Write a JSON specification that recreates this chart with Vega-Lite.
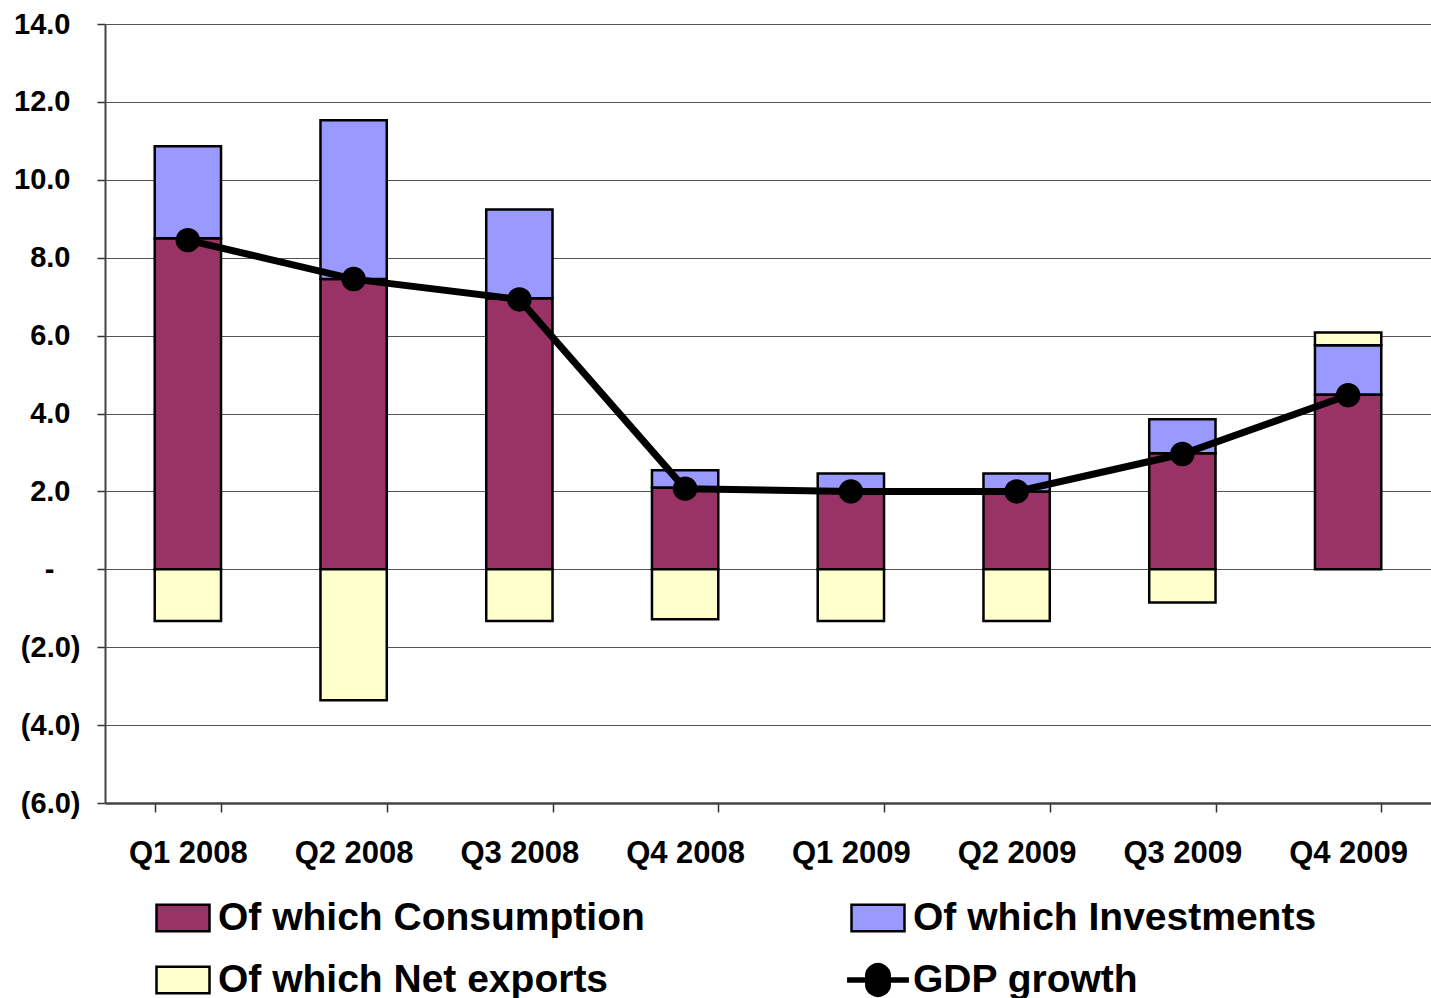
{
  "$schema": "https://vega.github.io/schema/vega-lite/v6.json",
  "width": 1326,
  "height": 779,
  "autosize": "none",
  "padding": {"left": 105, "top": 24, "right": 0, "bottom": 195},
  "background": "white",
  "config": {
    "view": {"stroke": null},
    "font": "Liberation Sans",
    "axis": {"labelFont": "Liberation Sans", "labelFontWeight": "bold", "labelColor": "black", "title": null},
    "legend": {
      "title": null, "orient": "none", "legendX": 50, "legendY": 866,
      "columns": 2, "columnPadding": 198, "rowPadding": 14,
      "labelFont": "Liberation Sans", "labelFontWeight": "bold", "labelFontSize": 39,
      "labelColor": "black", "labelOffset": 7, "labelLimit": 0,
      "symbolSize": 2809, "symbolStrokeColor": "black", "symbolStrokeWidth": 2.5
    }
  },
  "datasets": {
    "parts": [
      {"quarter": "Q1 2008", "series": "Of which Consumption", "value": 8.5},
      {"quarter": "Q1 2008", "series": "Of which Investments", "value": 2.36},
      {"quarter": "Q1 2008", "series": "Of which Net exports", "value": -1.33},
      {"quarter": "Q2 2008", "series": "Of which Consumption", "value": 7.45},
      {"quarter": "Q2 2008", "series": "Of which Investments", "value": 4.08},
      {"quarter": "Q2 2008", "series": "Of which Net exports", "value": -3.36},
      {"quarter": "Q3 2008", "series": "Of which Consumption", "value": 6.96},
      {"quarter": "Q3 2008", "series": "Of which Investments", "value": 2.28},
      {"quarter": "Q3 2008", "series": "Of which Net exports", "value": -1.33},
      {"quarter": "Q4 2008", "series": "Of which Consumption", "value": 2.1},
      {"quarter": "Q4 2008", "series": "Of which Investments", "value": 0.44},
      {"quarter": "Q4 2008", "series": "Of which Net exports", "value": -1.28},
      {"quarter": "Q1 2009", "series": "Of which Consumption", "value": 2.0},
      {"quarter": "Q1 2009", "series": "Of which Investments", "value": 0.46},
      {"quarter": "Q1 2009", "series": "Of which Net exports", "value": -1.33},
      {"quarter": "Q2 2009", "series": "Of which Consumption", "value": 2.0},
      {"quarter": "Q2 2009", "series": "Of which Investments", "value": 0.46},
      {"quarter": "Q2 2009", "series": "Of which Net exports", "value": -1.33},
      {"quarter": "Q3 2009", "series": "Of which Consumption", "value": 2.98},
      {"quarter": "Q3 2009", "series": "Of which Investments", "value": 0.87},
      {"quarter": "Q3 2009", "series": "Of which Net exports", "value": -0.85},
      {"quarter": "Q4 2009", "series": "Of which Consumption", "value": 4.49},
      {"quarter": "Q4 2009", "series": "Of which Investments", "value": 1.26},
      {"quarter": "Q4 2009", "series": "Of which Net exports", "value": 0.33}
    ],
    "gdp": [
      {"quarter": "Q1 2008", "series": "GDP growth", "gdp": 8.45},
      {"quarter": "Q2 2008", "series": "GDP growth", "gdp": 7.45},
      {"quarter": "Q3 2008", "series": "GDP growth", "gdp": 6.93},
      {"quarter": "Q4 2008", "series": "GDP growth", "gdp": 2.07},
      {"quarter": "Q1 2009", "series": "GDP growth", "gdp": 2.0},
      {"quarter": "Q2 2009", "series": "GDP growth", "gdp": 2.0},
      {"quarter": "Q3 2009", "series": "GDP growth", "gdp": 2.96},
      {"quarter": "Q4 2009", "series": "GDP growth", "gdp": 4.47}
    ]
  },
  "layer": [
    {
      "data": {"name": "parts"},
      "mark": {"type": "bar", "stroke": "black", "strokeWidth": 2.5},
      "encoding": {
        "x": {
          "field": "quarter", "type": "nominal", "sort": null,
          "scale": {"paddingInner": 0.6, "paddingOuter": 0.3},
          "axis": {
            "labelAngle": 0, "labelFontSize": 31, "labelPadding": 26,
            "tickBand": "extent", "tickSize": 9, "tickColor": "#333", "tickWidth": 1.5,
            "domainColor": "#444", "domainWidth": 2.5, "grid": false
          }
        },
        "y": {
          "field": "value", "type": "quantitative", "aggregate": "sum",
          "scale": {"domain": [-6, 14], "nice": false, "zero": false},
          "axis": {
            "values": [-6, -4, -2, 0, 2, 4, 6, 8, 10, 12, 14],
            "labelExpr": "datum.value == 0 ? '-' : (datum.value < 0 ? '(' + format(-datum.value, '.1f') + ')' : format(datum.value, '.1f'))",
            "labelFontSize": 29,
            "labelPadding": {"condition": [{"test": "datum.value == 0", "value": 43}, {"test": "datum.value > 0", "value": 27}], "value": 17},
            "tickSize": 8, "tickColor": "#333", "tickWidth": 1.5,
            "domainColor": "#444", "domainWidth": 2,
            "grid": true, "gridColor": "#555", "gridWidth": 1.2
          }
        },
        "color": {
          "field": "series", "type": "nominal",
          "scale": {
            "domain": ["Of which Consumption", "Of which Net exports", "Of which Investments", "GDP growth"],
            "range": ["#993366", "#FFFFCC", "#9999FF", "#000000"]
          }
        },
        "order": {"field": "series", "sort": "ascending"}
      }
    },
    {
      "data": {"name": "gdp"},
      "mark": {"type": "line", "color": "black", "strokeWidth": 7},
      "encoding": {
        "x": {"field": "quarter", "type": "nominal", "sort": null},
        "y": {"field": "gdp", "type": "quantitative"}
      }
    },
    {
      "data": {"name": "gdp"},
      "mark": {"type": "circle", "color": "black", "opacity": 1, "size": 600},
      "encoding": {
        "x": {"field": "quarter", "type": "nominal", "sort": null},
        "y": {"field": "gdp", "type": "quantitative"}
      }
    },
    {
      "data": {"name": "parts"},
      "transform": [{"filter": "datum.value > 100"}],
      "mark": {"type": "point", "filled": true, "opacity": 1, "stroke": "black", "strokeWidth": 2},
      "encoding": {
        "y": {"field": "value", "type": "quantitative"},
        "color": {"field": "series", "type": "nominal"},
        "shape": {
          "field": "series", "type": "nominal",
          "scale": {
            "domain": ["Of which Consumption", "Of which Net exports", "Of which Investments", "GDP growth"],
            "range": [
              "M-1,-0.5H1V0.5H-1Z",
              "M-1,-0.5H1V0.5H-1Z",
              "M-1,-0.5H1V0.5H-1Z",
              "M-1.12,-0.06H-0.43A0.44,0.44 0 1,1 0.43,-0.06H1.12V0.06H0.43A0.44,0.44 0 1,1 -0.43,0.06H-1.12Z"
            ]
          }
        }
      }
    }
  ]
}
